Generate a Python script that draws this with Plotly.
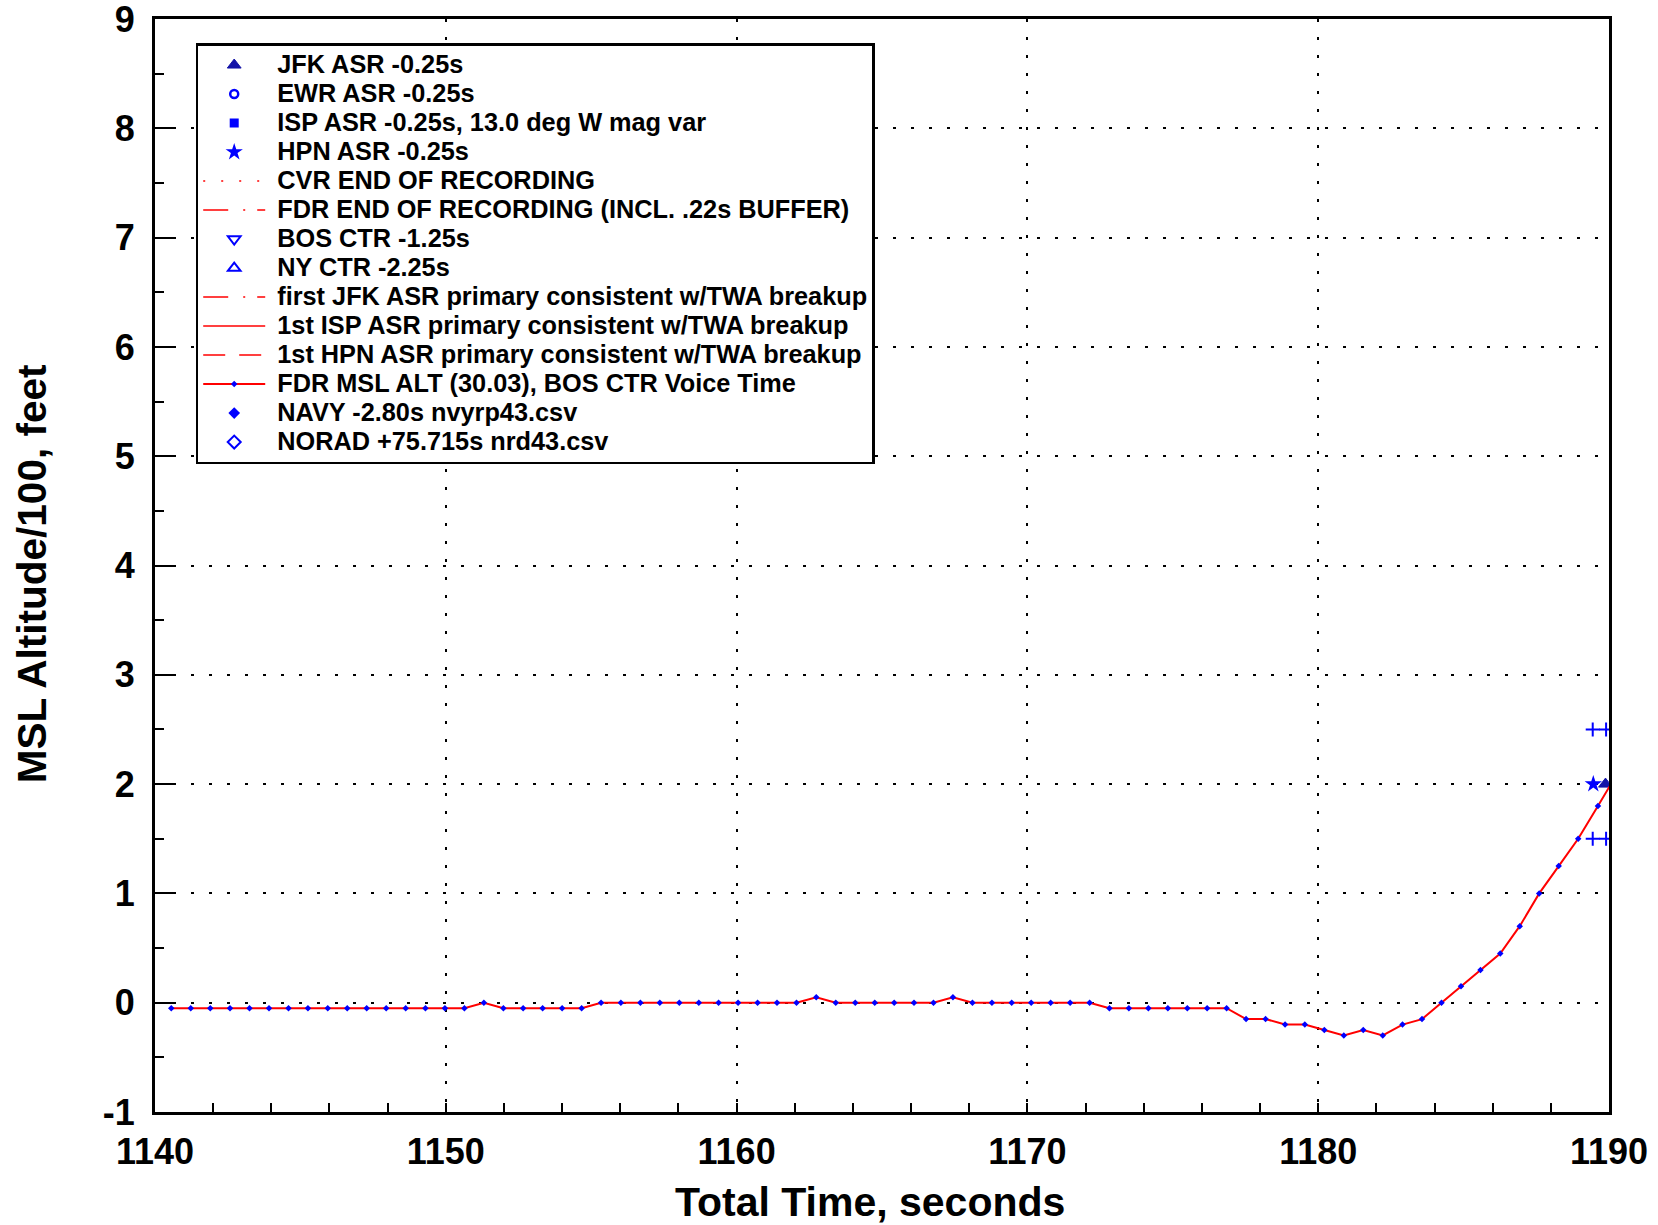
import plotly.graph_objects as go

# ---------------- data ----------------
fdr_time = [1140.56, 1141.23, 1141.90, 1142.58, 1143.25, 1143.92, 1144.59, 1145.26, 1145.94, 1146.61,
            1147.28, 1147.95, 1148.62, 1149.30, 1149.97, 1150.64, 1151.31, 1151.98, 1152.66, 1153.33,
            1154.00, 1154.67, 1155.34, 1156.02, 1156.69, 1157.36, 1158.03, 1158.70, 1159.38, 1160.05,
            1160.72, 1161.39, 1162.06, 1162.74, 1163.41, 1164.08, 1164.75, 1165.42, 1166.10, 1166.77,
            1167.44, 1168.11, 1168.78, 1169.46, 1170.13, 1170.80, 1171.47, 1172.14, 1172.82, 1173.49,
            1174.16, 1174.83, 1175.50, 1176.18, 1176.85, 1177.52, 1178.19, 1178.86, 1179.54, 1180.21,
            1180.88, 1181.55, 1182.22, 1182.90, 1183.57, 1184.24, 1184.91, 1185.58, 1186.26, 1186.93,
            1187.60, 1188.27, 1188.94, 1189.62, 1190.29]
fdr_alt = [-0.05, -0.05, -0.05, -0.05, -0.05, -0.05, -0.05, -0.05, -0.05, -0.05,
           -0.05, -0.05, -0.05, -0.05, -0.05, -0.05, 0.00, -0.05, -0.05, -0.05,
           -0.05, -0.05, 0.00, 0.00, 0.00, 0.00, 0.00, 0.00, 0.00, 0.00,
           0.00, 0.00, 0.00, 0.05, 0.00, 0.00, 0.00, 0.00, 0.00, 0.00,
           0.05, 0.00, 0.00, 0.00, 0.00, 0.00, 0.00, 0.00, -0.05, -0.05,
           -0.05, -0.05, -0.05, -0.05, -0.05, -0.15, -0.15, -0.20, -0.20, -0.25,
           -0.30, -0.25, -0.30, -0.20, -0.15, 0.00, 0.15, 0.30, 0.45, 0.70,
           1.00, 1.25, 1.50, 1.80, 2.10]

jfk_time = [1189.88]
jfk_alt = [2.0]
hpn_time = [1189.46]
hpn_alt = [2.0]
bounds_time = [1189.44, 1189.90, 1189.44, 1189.90]
bounds_alt = [2.5, 2.5, 1.5, 1.5]

x_ticks = [1140, 1150, 1160, 1170, 1180, 1190]
y_ticks = [-1, 0, 1, 2, 3, 4, 5, 6, 7, 8, 9]

legend_names = [
    "JFK ASR -0.25s",
    "EWR ASR -0.25s",
    "ISP ASR -0.25s, 13.0 deg W mag var",
    "HPN ASR -0.25s",
    "CVR END OF RECORDING",
    "FDR END OF RECORDING (INCL. .22s BUFFER)",
    "BOS CTR -1.25s",
    "NY CTR -2.25s",
    "first JFK ASR primary consistent w/TWA breakup",
    "1st ISP ASR primary consistent w/TWA breakup",
    "1st HPN ASR primary consistent w/TWA breakup",
    "FDR MSL ALT (30.03), BOS CTR Voice Time",
    "NAVY -2.80s nvyrp43.csv",
    "NORAD +75.715s nrd43.csv",
]

x_title = "Total Time, seconds"
y_title = "MSL Altitude/100, feet"

BLUE = "#0000ff"
NAVY = "#1414a8"
RED = "#ff0000"
FONT = "Liberation Sans, Arial, Helvetica, sans-serif"


def nm(i):
    return "<span style='font-size:25.3px'>\u00a0" + legend_names[i] + "</span>"


fig = go.Figure()

fig.add_trace(go.Scatter(x=jfk_time, y=jfk_alt, mode="markers", name=nm(0),
                         marker=dict(symbol="triangle-up", size=12, color=NAVY, line=dict(color=NAVY, width=1))))
fig.add_trace(go.Scatter(x=[None], y=[None], mode="markers", name=nm(1),
                         marker=dict(symbol="circle-open", size=8, color=BLUE, line=dict(width=2.5))))
fig.add_trace(go.Scatter(x=[None], y=[None], mode="markers", name=nm(2),
                         marker=dict(symbol="square", size=9, color=BLUE)))
fig.add_trace(go.Scatter(x=hpn_time, y=hpn_alt, mode="markers", name=nm(3),
                         marker=dict(symbol="star", size=13, color=BLUE, line=dict(width=0))))
fig.add_trace(go.Scatter(x=[None], y=[None], mode="lines", name=nm(4),
                         line=dict(color=RED, width=1.5, dash="2px,16px")))
fig.add_trace(go.Scatter(x=[None], y=[None], mode="lines", name=nm(5),
                         line=dict(color=RED, width=1.5, dash="25px,15px,2px,12px")))
fig.add_trace(go.Scatter(x=[None], y=[None], mode="markers", name=nm(6),
                         marker=dict(symbol="triangle-down-open", size=11, color=BLUE, line=dict(width=2))))
fig.add_trace(go.Scatter(x=[None], y=[None], mode="markers", name=nm(7),
                         marker=dict(symbol="triangle-up-open", size=11, color=BLUE, line=dict(width=2))))
fig.add_trace(go.Scatter(x=[None], y=[None], mode="lines", name=nm(8),
                         line=dict(color=RED, width=1.5, dash="25px,15px,2px,12px")))
fig.add_trace(go.Scatter(x=[None], y=[None], mode="lines", name=nm(9),
                         line=dict(color=RED, width=1.5)))
fig.add_trace(go.Scatter(x=[None], y=[None], mode="lines", name=nm(10),
                         line=dict(color=RED, width=1.5, dash="22px,14px")))
fig.add_trace(go.Scatter(x=fdr_time, y=fdr_alt, mode="lines+markers", name=nm(11),
                         line=dict(color=RED, width=2),
                         marker=dict(symbol="diamond", size=5, color=BLUE)))
fig.add_trace(go.Scatter(x=[None], y=[None], mode="markers", name=nm(12),
                         marker=dict(symbol="diamond", size=9, color=BLUE)))
fig.add_trace(go.Scatter(x=[None], y=[None], mode="markers", name=nm(13),
                         marker=dict(symbol="diamond-open", size=10, color=BLUE, line=dict(width=2))))
fig.add_trace(go.Scatter(x=bounds_time, y=bounds_alt, mode="markers", showlegend=False,
                         marker=dict(symbol="cross-thin", size=10, color=BLUE, line=dict(color=BLUE, width=2))))

axis_common = dict(
    showline=True, linewidth=3, linecolor="black", mirror=True,
    showgrid=True, gridcolor="black", gridwidth=2, griddash="3px,15px",
    zeroline=False, ticks="inside", tickwidth=2, tickcolor="black",
    tickfont=dict(family=FONT, size=36, color="black", weight="bold"),
    ticklabeloverflow="allow", automargin=False,
)

fig.update_xaxes(range=[1140, 1190], tickvals=x_ticks, ticktext=[str(v) for v in x_ticks],
                 ticklen=9,
                 minor=dict(dtick=2, ticks="inside", ticklen=9, tickwidth=2, tickcolor="black", showgrid=False),
                 ticklabelstandoff=6,
                 **axis_common)
fig.update_yaxes(range=[-1, 9], tickvals=y_ticks, ticktext=[str(v) for v in y_ticks],
                 ticklen=18,
                 minor=dict(dtick=0.5, ticks="inside", ticklen=9, tickwidth=2, tickcolor="black", showgrid=False),
                 ticklabelstandoff=10,
                 **axis_common)

fig.add_annotation(text=x_title, xref="paper", yref="paper", x=0.4917, y=-0.082,
                   xanchor="center", yanchor="middle", showarrow=False,
                   font=dict(family=FONT, size=41, color="black", weight="bold"))
fig.add_annotation(text=y_title, xref="paper", yref="paper", x=-0.0846, y=0.493,
                   xanchor="center", yanchor="middle", showarrow=False, textangle=-90,
                   font=dict(family=FONT, size=40.5, color="black", weight="bold"))

fig.update_layout(
    width=1658, height=1225,
    margin=dict(l=155, r=49, t=19, b=113),
    paper_bgcolor="white", plot_bgcolor="white",
    showlegend=True,
    legend=dict(x=0.028, y=0.978, xanchor="left", yanchor="top",
                bgcolor="white", bordercolor="black", borderwidth=2.5,
                font=dict(family=FONT, size=20, color="black", weight="bold"),
                itemwidth=62, traceorder="normal"),
)

fig.write_html("out.html")
